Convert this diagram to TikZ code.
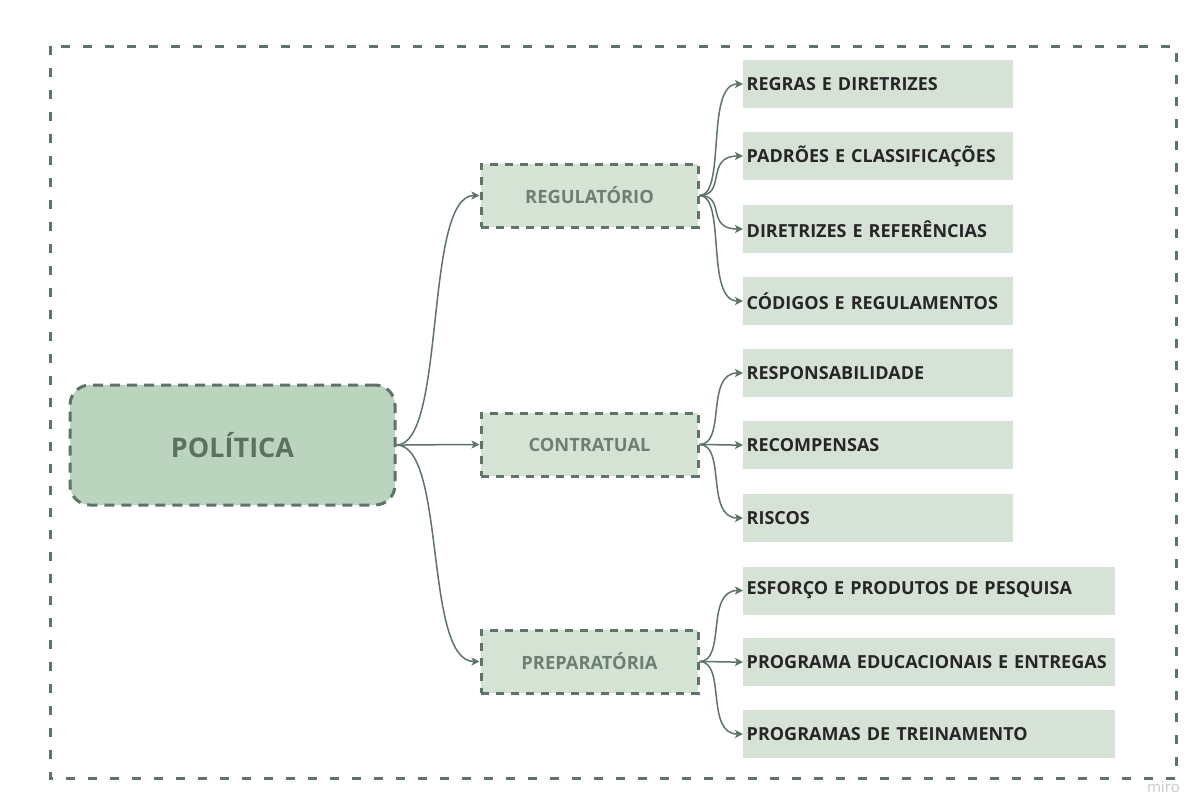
\documentclass[tikz,border=0pt]{standalone}
\usepackage{fontspec}
\setmainfont{Open Sans}
\usetikzlibrary{arrows.meta}

\definecolor{linegreen}{HTML}{5F7468}
\definecolor{rootfill}{HTML}{BAD4BD}
\definecolor{rootink}{HTML}{5B7263}
\definecolor{midfill}{HTML}{D5E3D5}
\definecolor{midink}{HTML}{6B8073}
\definecolor{leaffill}{HTML}{D6E2D5}
\definecolor{leafink}{HTML}{262626}
\definecolor{markgray}{HTML}{C8C8C8}

\tikzset{
  outerframe/.style={draw=linegreen, line width=3pt, dash pattern=on 9pt off 13pt},
  rootbox/.style={draw=linegreen, fill=rootfill, line width=3pt,
    dash pattern=on 10pt off 7pt, rounded corners=20pt,
    minimum width=325pt, minimum height=120pt, inner sep=0pt,
    text=rootink, font=\bfseries\fontsize{27}{30}\selectfont},
  midbox/.style={draw=linegreen, fill=midfill, line width=3pt,
    dash pattern=on 8pt off 7pt,
    minimum width=217pt, minimum height=63pt, inner sep=0pt,
    text=midink, font=\bfseries\fontsize{18.3}{21}\selectfont},
  leafbox/.style={fill=leaffill, anchor=west, minimum height=48pt,
    inner ysep=0pt, inner xsep=3.5pt, align=left,
    text=leafink, font=\bfseries\fontsize{18}{21}\selectfont},
  shortleaf/.style={leafbox, text width=263pt},
  longleaf/.style={leafbox, text width=365pt},
  conn/.style={draw=linegreen, line width=1.5pt,
    -{Stealth[length=8pt, width=8pt, inset=2pt]}},
}

\begin{document}
\begin{tikzpicture}[x=1pt, y=-1pt]
\useasboundingbox (0,0) rectangle (1204,811);
\fill[white] (0,0) rectangle (1204,811);

% outer dashed frame
\draw[outerframe] (50,46) rectangle (1176,778);

% root
\node[rootbox] (pol) at (232.5,445) {POLÍTICA};

% second level
\node[midbox] (reg) at (589.5,195.5) {REGULATÓRIO};
\node[midbox] (con) at (589.5,444.5) {CONTRATUAL};
\node[midbox] (pre) at (589.5,661.5) {PREPARATÓRIA};

% leaves
\node[shortleaf] (r1) at (743,84)  {REGRAS E DIRETRIZES};
\node[shortleaf] (r2) at (743,156) {PADRÕES E CLASSIFICAÇÕES};
\node[shortleaf] (r3) at (743,229) {DIRETRIZES E REFERÊNCIAS};
\node[shortleaf] (r4) at (743,301) {CÓDIGOS E REGULAMENTOS};
\node[shortleaf] (c1) at (743,373) {RESPONSABILIDADE};
\node[shortleaf] (c2) at (743,445) {RECOMPENSAS};
\node[shortleaf] (c3) at (743,518) {RISCOS};
\node[longleaf]  (p1) at (743,590.5) {ESFORÇO E PRODUTOS DE PESQUISA};
\node[longleaf]  (p2) at (743,662) {PROGRAMA EDUCACIONAIS E ENTREGAS};
\node[longleaf]  (p3) at (743,734) {PROGRAMAS DE TREINAMENTO};

% root connectors
\foreach \m in {reg,con,pre}
  \draw[conn] (pol.east) .. controls +(50,0) and +(-56,0) .. (\m.west);

% leaf connectors
\foreach \m/\l in {reg/r1,reg/r2,reg/r3,reg/r4,con/c1,con/c2,con/c3,pre/p1,pre/p2,pre/p3}
  \draw[conn] (\m.east) .. controls +(27,0) and +(-38,0) .. (\l.west);

% watermark
\node[text=markgray, font=\fontsize{15}{17}\selectfont, anchor=base west, inner sep=0pt]
  (mark) at (1147,792) {miro};
\end{tikzpicture}
\end{document}
